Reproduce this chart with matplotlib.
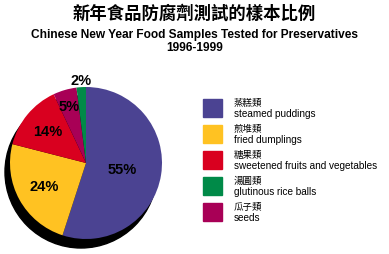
import matplotlib
matplotlib.use("Agg")
import matplotlib.pyplot as plt
from matplotlib.patches import Circle, Rectangle
import numpy as np

# data (legend order)
shares = [55, 24, 14, 2, 5]
labels_zh = ["蒸糕類", "煎堆類", "糖果類", "湯圓類", "瓜子類"]
labels_en = ["steamed puddings", "fried dumplings", "sweetened fruits and vegetables",
             "glutinous rice balls", "seeds"]
colors = ["#4b4392", "#ffc222", "#d9001f", "#008a48", "#a80056"]
# order of the slices going clockwise from the top
pie_order = [0, 1, 2, 4, 3]
# where each percentage sits, as a fraction of the radius (pie order)
label_dist = [0.48, 0.63, 0.66, 0.78, 1.09]

W, H = 389, 255
fig = plt.figure(figsize=(W / 100, H / 100), dpi=100)
ax = fig.add_axes([0, 0, 1, 1])

cx, cy, r = 86, H - 164, 76

# shadow
ax.add_patch(Circle((cx - 5, cy - 9), r, color="black", zorder=1))

vals = [shares[i] for i in pie_order]
wedges, _ = ax.pie(vals, colors=[colors[i] for i in pie_order], startangle=90,
                   counterclock=False, center=(cx, cy), radius=r, frame=True,
                   wedgeprops=dict(linewidth=0))
for w in wedges:
    w.set_zorder(2)
ax.set_xlim(0, W)
ax.set_ylim(0, H)
ax.set_aspect("equal")
ax.axis("off")

for w, v, d in zip(wedges, vals, label_dist):
    ang = np.deg2rad((w.theta1 + w.theta2) / 2)
    ax.text(cx + d * r * np.cos(ang), cy + d * r * np.sin(ang), f"{v}%",
            ha="center", va="center", fontsize=10.5, fontweight="bold",
            family="Liberation Sans", zorder=3)

# titles
fig.text(0.5, 1 - 14 / H, "新年食品防腐劑測試的樣本比例", ha="center", va="center",
         fontsize=12.5, fontweight="bold", family="Noto Sans CJK TC")
fig.text(0.5, 1 - 35 / H, "Chinese New Year Food Samples Tested for Preservatives",
         ha="center", va="center", fontsize=8.6, fontweight="bold", family="Liberation Sans")
fig.text(0.5, 1 - 48 / H, "1996-1999", ha="center", va="center",
         fontsize=8.6, fontweight="bold", family="Liberation Sans")

# legend
tops = [100, 126, 152, 178, 204]
for t, c, zh, en in zip(tops, colors, labels_zh, labels_en):
    ax.add_patch(Rectangle((203, H - t - 18), 19, 18, color=c, zorder=2))
    ax.text(234, H - t - 3, zh, ha="left", va="center", fontsize=6.8,
            family="Noto Sans CJK TC")
    ax.text(234, H - t - 14, en, ha="left", va="center", fontsize=7.2,
            family="Liberation Sans")

fig.savefig("out.png", dpi=100)
